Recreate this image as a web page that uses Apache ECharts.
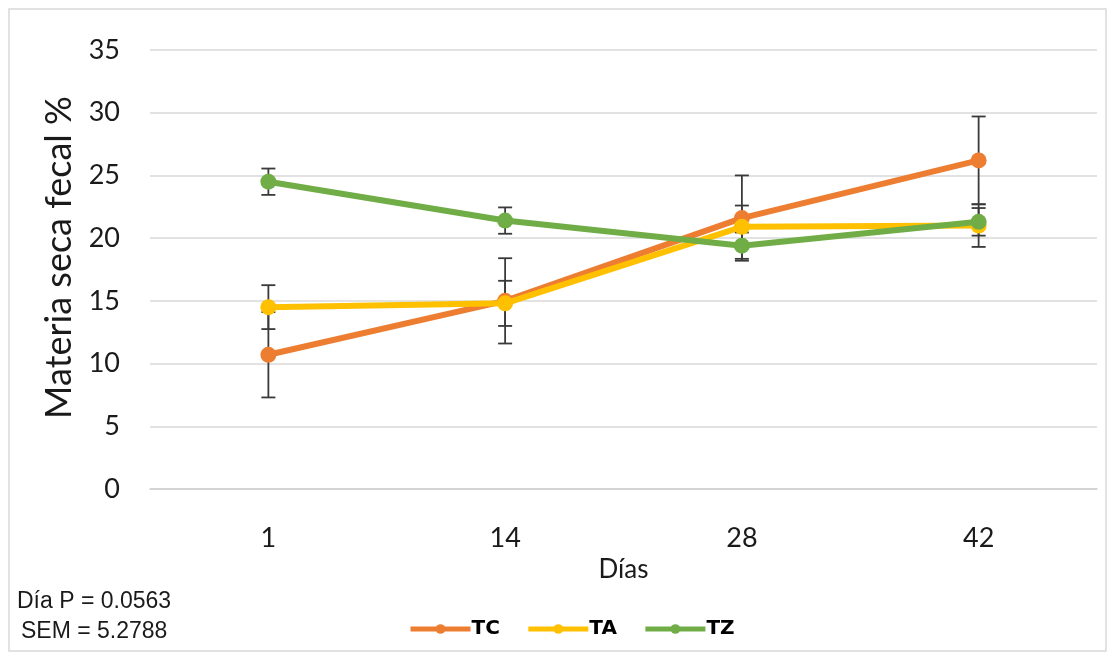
<!DOCTYPE html>
<html>
<head>
<meta charset="utf-8">
<script src="https://cdn.jsdelivr.net/npm/echarts@6/dist/echarts.min.js"></script>
<style>
html,body{margin:0;padding:0;background:#fff;}
#c{width:1114px;height:654px;}
</style>
</head>
<body>
<div id="c"></div>
<script>
var categories = ['1', '14', '28', '42'];
var seriesNames = ['TC', 'TA', 'TZ'];
var tcValues = [10.7, 15.0, 21.6, 26.2];
var taValues = [14.5, 14.8, 20.9, 21.0];
var tzValues = [24.5, 21.4, 19.4, 21.3];
var tcErrors = [3.4, 3.4, 3.4, 3.5];
var taErrors = [1.75, 1.8, 1.7, 1.7];
var tzErrors = [1.05, 1.05, 1.05, 1.1];
var yTicks = [0, 5, 10, 15, 20, 25, 30, 35];
var colors = ['#ED7D31', '#FFC000', '#70AD47'];

var chart = echarts.init(document.getElementById('c'));

function errorSeries(values, errors, z) {
  var data = values.map(function (v, i) { return [i, v - errors[i], v + errors[i]]; });
  return {
    type: 'custom',
    silent: true,
    z: z,
    data: data,
    renderItem: function (params, api) {
      var x = api.value(0);
      var lo = api.coord([x, api.value(1)]);
      var hi = api.coord([x, api.value(2)]);
      var hw = 7;
      var st = { stroke: '#3a3a3a', lineWidth: 1.8 };
      return {
        type: 'group',
        children: [
          { type: 'line', shape: { x1: lo[0], y1: lo[1], x2: hi[0], y2: hi[1] }, style: st },
          { type: 'line', shape: { x1: lo[0] - hw, y1: lo[1], x2: lo[0] + hw, y2: lo[1] }, style: st },
          { type: 'line', shape: { x1: hi[0] - hw, y1: hi[1], x2: hi[0] + hw, y2: hi[1] }, style: st }
        ]
      };
    }
  };
}

function lineSeries(name, values, color, z) {
  return {
    name: name,
    type: 'line',
    data: values,
    z: z,
    symbol: 'circle',
    symbolSize: 16,
    lineStyle: { width: 6, color: color },
    itemStyle: { color: color },
    emphasis: { disabled: true }
  };
}

chart.setOption({
  animation: false,
  color: colors,
  grid: { left: 150, right: 17, top: 50, bottom: 165, containLabel: false },
  graphic: [
    { type: 'rect', shape: { x: 9, y: 9, width: 1097, height: 642 },
      style: { fill: 'none', stroke: '#d9d9d9', lineWidth: 1.5 }, silent: true },
    { type: 'text', left: 17, top: 590,
      style: { text: 'Día P = 0.0563', font: '23px "Liberation Sans", Arial, sans-serif', fill: '#1a1a1a' } },
    { type: 'text', left: 21, top: 620,
      style: { text: 'SEM = 5.2788', font: '23px "Liberation Sans", Arial, sans-serif', fill: '#1a1a1a' } }
  ],
  legend: {
    data: seriesNames,
    left: 403,
    top: 614,
    itemWidth: 60,
    itemHeight: 12,
    itemGap: 26,
    lineStyle: { width: 5 },
    itemStyle: { borderWidth: 0 },
    textStyle: { fontFamily: '"DejaVu Sans", sans-serif', fontWeight: 'bold', fontSize: 20, color: '#000', padding: [0, 0, 0, -4] }
  },
  xAxis: {
    type: 'category',
    data: categories,
    boundaryGap: true,
    name: 'Días',
    nameLocation: 'middle',
    nameGap: 64,
    nameTextStyle: { fontFamily: 'Lato, sans-serif', fontSize: 26, color: '#1a1a1a' },
    axisLine: { lineStyle: { color: '#d0d0d0', width: 1.5 } },
    axisTick: { show: false },
    axisLabel: { fontFamily: 'Lato, sans-serif', fontSize: 27, color: '#1a1a1a', margin: 36 }
  },
  yAxis: {
    type: 'value',
    min: 0,
    max: 35,
    interval: 5,
    name: 'Materia seca fecal %',
    nameLocation: 'middle',
    nameGap: 72,
    nameTextStyle: { fontFamily: 'Lato, sans-serif', fontSize: 36, color: '#1a1a1a', padding: [0, 0, 0, 24] },
    axisLine: { show: false },
    axisTick: { show: false },
    splitLine: { lineStyle: { color: '#d9d9d9', width: 1.5 } },
    axisLabel: {
      fontFamily: 'Lato, sans-serif', fontSize: 27, color: '#1a1a1a', margin: 30,
      formatter: function (v) { return yTicks.indexOf(v) >= 0 ? String(v) : ''; }
    }
  },
  series: [
    errorSeries(tcValues, tcErrors, 1),
    errorSeries(taValues, taErrors, 1),
    errorSeries(tzValues, tzErrors, 1),
    lineSeries('TC', tcValues, colors[0], 3),
    lineSeries('TA', taValues, colors[1], 4),
    lineSeries('TZ', tzValues, colors[2], 5)
  ]
});
</script>
</body>
</html>
